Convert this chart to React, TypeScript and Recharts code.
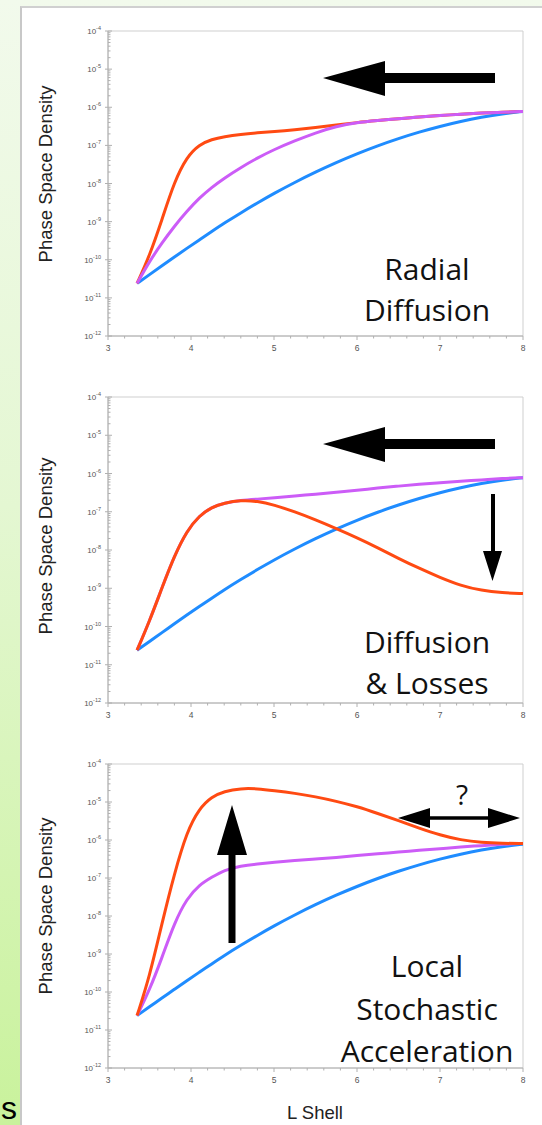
import React from "react";
import { LineChart, Line, XAxis, YAxis, ReferenceArea } from "recharts";

// L shell sample points shared by every curve
const lShell = [3.35, 3.5, 3.65, 3.8, 3.95, 4.1, 4.25, 4.4, 4.6, 4.8, 5.0, 5.25, 5.5, 5.75, 6.0, 6.25, 6.5, 6.75, 7.0, 7.25, 7.5, 7.75, 8.0];

// log10 of phase space density
const initialPsd = [-10.62, -10.39, -10.16, -9.93, -9.7, -9.48, -9.26, -9.04, -8.77, -8.51, -8.26, -7.97, -7.7, -7.45, -7.22, -7.01, -6.82, -6.65, -6.5, -6.37, -6.26, -6.17, -6.11];

const radialMid = [-10.62, -10.04, -9.56, -9.12, -8.73, -8.38, -8.1, -7.86, -7.58, -7.33, -7.11, -6.88, -6.67, -6.5, -6.4, -6.35, -6.3, -6.25, -6.22, -6.18, -6.15, -6.13, -6.11];
const radialFinal = [-10.62, -9.9, -8.95, -7.95, -7.3, -6.98, -6.84, -6.77, -6.71, -6.67, -6.64, -6.59, -6.53, -6.47, -6.4, -6.35, -6.3, -6.25, -6.22, -6.18, -6.15, -6.13, -6.11];

const lossMid = [-10.62, -9.86, -8.99, -8.15, -7.5, -7.1, -6.88, -6.77, -6.7, -6.67, -6.64, -6.59, -6.54, -6.49, -6.44, -6.38, -6.33, -6.28, -6.24, -6.2, -6.17, -6.13, -6.11];
const lossFinal = [-10.62, -9.86, -8.99, -8.15, -7.5, -7.1, -6.88, -6.77, -6.7, -6.72, -6.82, -7.0, -7.21, -7.44, -7.68, -7.94, -8.22, -8.48, -8.72, -8.93, -9.06, -9.12, -9.14];

const accelMid = [-10.62, -9.95, -9.1, -8.18, -7.54, -7.18, -6.98, -6.79, -6.68, -6.63, -6.59, -6.54, -6.5, -6.46, -6.41, -6.36, -6.32, -6.27, -6.23, -6.18, -6.15, -6.11, -6.09];
const accelFinal = [-10.62, -9.6, -8.19, -6.88, -5.78, -5.17, -4.86, -4.72, -4.64, -4.65, -4.7, -4.77, -4.86, -4.98, -5.12, -5.3, -5.49, -5.69, -5.87, -6.0, -6.07, -6.09, -6.09];

const xTicks = [3, 3.2, 3.4, 3.6, 3.8, 4, 4.2, 4.4, 4.6, 4.8, 5, 5.2, 5.4, 5.6, 5.8, 6, 6.2, 6.4, 6.6, 6.8, 7, 7.2, 7.4, 7.6, 7.8, 8];
const yDecades = [-12, -11, -10, -9, -8, -7, -6, -5, -4];
const minorSteps = [2, 3, 4, 5, 6, 7, 8, 9];

const yTicks = yDecades.flatMap((d) =>
  d < -4 ? [Math.pow(10, d), ...minorSteps.map((k) => k * Math.pow(10, d))] : [Math.pow(10, d)]
);

const ORANGE = "#ff4a12";
const MAGENTA = "#cc5cf7";
const BLUE = "#1f8cff";
const AXIS = "#b0b0b0";

const buildRows = (mid: number[], fin: number[]) =>
  lShell.map((L, i) => ({
    L,
    initial: Math.pow(10, initialPsd[i]),
    mid: Math.pow(10, mid[i]),
    fin: Math.pow(10, fin[i]),
  }));

const isMajor = (v: number) => Math.abs(v - Math.round(v)) < 1e-6;

const XTick = (props: any) => {
  const { x, y, payload } = props;
  const major = isMajor(payload.value);
  return (
    <g>
      <line x1={x} x2={x} y1={y} y2={y + (major ? 4 : 2.5)} stroke={AXIS} />
      {major && (
        <text x={x} y={y + 15} textAnchor="middle" fontSize={8.5} fill="#555" fontFamily="Liberation Sans, Arial">
          {payload.value}
        </text>
      )}
    </g>
  );
};

const YTickLeft = (props: any) => {
  const { x, y, payload } = props;
  const e = Math.log10(payload.value);
  const major = isMajor(e);
  if (!major) return <line x1={x} x2={x + 2.5} y1={y} y2={y} stroke={AXIS} />;
  return (
    <g>
      <line x1={x - 3} x2={x + 4} y1={y} y2={y} stroke={AXIS} />
      <text x={x - 7} y={y + 3} textAnchor="end" fontSize={8} fill="#555" fontFamily="Liberation Sans, Arial">
        10
        <tspan dy={-4} fontSize={5.5}>
          {Math.round(e)}
        </tspan>
      </text>
    </g>
  );
};

const YTickRight = (props: any) => {
  const { x, y, payload } = props;
  const major = isMajor(Math.log10(payload.value));
  return <line x1={x - (major ? 4 : 2.5)} x2={x} y1={y} y2={y} stroke={AXIS} />;
};

type PanelProps = { top: number; plotHeight: number; mid: number[]; fin: number[]; finalOnTop: boolean };

const Panel = ({ top, plotHeight, mid, fin, finalOnTop }: PanelProps) => {
  const rows = buildRows(mid, fin);
  const midLine = (
    <Line key="mid" yAxisId="left" type="basis" dataKey="mid" stroke={MAGENTA} strokeWidth={3} dot={false} isAnimationActive={false} />
  );
  const finLine = (
    <Line key="fin" yAxisId="left" type="basis" dataKey="fin" stroke={ORANGE} strokeWidth={3} dot={false} isAnimationActive={false} />
  );
  return (
    <div style={{ position: "absolute", left: 0, top: top - 10 }}>
      <LineChart width={542} height={plotHeight + 30} data={rows} margin={{ top: 10, right: 19, bottom: 0, left: 0 }}>
        <ReferenceArea yAxisId="left" x1={3} x2={8} y1={1e-12} y2={1e-4} fill="none" stroke="#cfcfcf" ifOverflow="visible" />
        <XAxis
          dataKey="L"
          type="number"
          domain={[3, 8]}
          ticks={xTicks}
          interval={0}
          allowDataOverflow
          height={20}
          tickSize={0}
          tickMargin={0}
          tickLine={false}
          axisLine={{ stroke: AXIS }}
          tick={<XTick />}
        />
        <YAxis
          yAxisId="left"
          type="number"
          scale="log"
          domain={[1e-12, 1e-4]}
          ticks={yTicks}
          interval={0}
          allowDataOverflow
          width={108}
          tickSize={0}
          tickMargin={0}
          tickLine={false}
          axisLine={{ stroke: AXIS }}
          tick={<YTickLeft />}
        />
        <YAxis
          yAxisId="right"
          orientation="right"
          type="number"
          scale="log"
          domain={[1e-12, 1e-4]}
          ticks={yTicks}
          interval={0}
          allowDataOverflow
          width={0}
          tickSize={0}
          tickMargin={0}
          tickLine={false}
          axisLine={{ stroke: "#cfcfcf" }}
          tick={<YTickRight />}
        />
        <Line yAxisId="left" type="basis" dataKey="initial" stroke={BLUE} strokeWidth={3} dot={false} isAnimationActive={false} />
        {finalOnTop ? [midLine, finLine] : [finLine, midLine]}
      </LineChart>
    </div>
  );
};

const textStyle = { fontFamily: "Open Sans, Liberation Sans, sans-serif", fontSize: 30, fill: "#111" };
const titleStyle = { fontFamily: "Liberation Sans, Arial, sans-serif", fontSize: 18.5, fill: "#222" };

const App = () => {
  return (
    <div
      style={{
        position: "absolute",
        left: 0,
        top: 0,
        width: 542,
        height: 1125,
        overflow: "hidden",
        background: "linear-gradient(to bottom, #f2faec 0%, #e4f7d2 45%, #c9f29c 100%)",
      }}
    >
      <div
        style={{
          position: "absolute",
          left: 20,
          top: 6,
          width: 522,
          height: 1119,
          background: "#fff",
          borderLeft: "2px solid #c8c8c8",
          borderTop: "2px solid #d0d0d0",
        }}
      />
      <Panel top={31} plotHeight={305} mid={radialMid} fin={radialFinal} finalOnTop={false} />
      <Panel top={397} plotHeight={306} mid={lossMid} fin={lossFinal} finalOnTop={true} />
      <Panel top={764} plotHeight={304} mid={accelMid} fin={accelFinal} finalOnTop={true} />
      <svg width={542} height={1125} style={{ position: "absolute", left: 0, top: 0, pointerEvents: "none" }}>
        <text x={1} y={1119} fontSize={32} fontFamily="Liberation Sans, Arial" fill="#000">
          s
        </text>
        {[174, 546, 906].map((cy) => (
          <text key={cy} x={45} y={cy} transform={`rotate(-90 45 ${cy})`} textAnchor="middle" dominantBaseline="central" style={titleStyle}>
            Phase Space Density
          </text>
        ))}
        <text x={315} y={1119} textAnchor="middle" style={titleStyle}>
          L Shell
        </text>

        {/* panel 1 */}
        <polygon points="323,78 385,61 385,73 495,73 495,83 385,83 385,96" fill="#000" />
        <text x={427} y={280} textAnchor="middle" style={textStyle}>Radial</text>
        <text x={427} y={321} textAnchor="middle" style={textStyle}>Diffusion</text>

        {/* panel 2 */}
        <polygon points="323,444 385,427 385,439 495,439 495,449 385,449 385,462" fill="#000" />
        <polygon points="491,494 495,494 495,551 502,551 492.5,581 483,551 491,551" fill="#000" />
        <text x={427} y={653} textAnchor="middle" style={textStyle}>Diffusion</text>
        <text x={427} y={694} textAnchor="middle" style={textStyle}>&amp; Losses</text>

        {/* panel 3 */}
        <polygon points="228.5,943 235.5,943 235.5,855 247,855 232,805 217,855 228.5,855" fill="#000" />
        <polygon points="398,818 430,808 430,816.3 488,816.3 488,808 520,818 488,828 488,819.7 430,819.7 430,828" fill="#000" />
        <text x={462} y={805} textAnchor="middle" style={{ ...textStyle, fontSize: 28 }}>?</text>
        <text x={427} y={977} textAnchor="middle" style={textStyle}>Local</text>
        <text x={427} y={1020} textAnchor="middle" style={textStyle}>Stochastic</text>
        <text x={427} y={1062} textAnchor="middle" style={textStyle}>Acceleration</text>
      </svg>
    </div>
  );
};

export default App;
